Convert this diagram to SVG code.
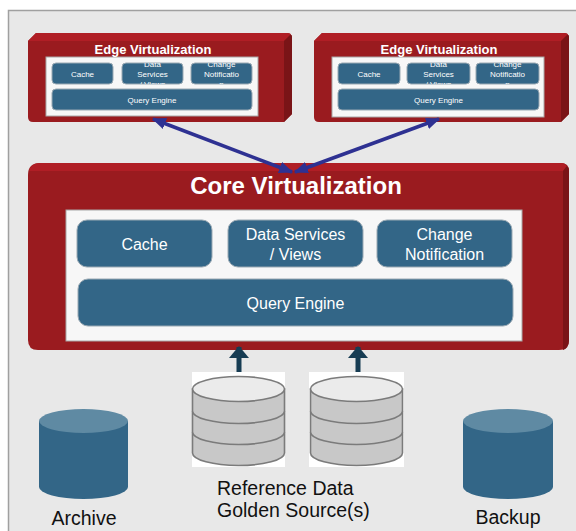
<svg xmlns="http://www.w3.org/2000/svg" width="576" height="531" viewBox="0 0 576 531">
<defs>
<style>
.frame{fill:#e8e8e8;stroke:#a0a0a0;stroke-width:1.5}
.red{fill:#9a1b1f}
.redtop{fill:#b01e25}
.redside{fill:#7a1417}
.panel{fill:#f7f7f7;stroke:#a8a8a8;stroke-width:1}
.box{fill:#336687;stroke:#9aa9b3;stroke-width:1}
.t{font-family:"Liberation Sans",Arial,sans-serif;fill:#ffffff;text-anchor:middle}
.title{font-weight:bold}
.lbl{font-family:"Liberation Sans",Arial,sans-serif;fill:#111111;font-size:19.5px}
.dbg{fill:#c8c8c8;stroke:#7b7b7b;stroke-width:1.6}
.dbgtop{fill:#ebebeb;stroke:#7b7b7b;stroke-width:1.6}
.dbb{fill:#336687}
.dbbtop{fill:#5f8aa3}
.conn{stroke:#2e3192;stroke-width:3.5;fill:none}
.up{stroke:#163c53;stroke-width:5;fill:none}
</style>
<marker id="bh" viewBox="0 0 12 10" refX="11" refY="5" markerWidth="14" markerHeight="12" markerUnits="userSpaceOnUse" orient="auto-start-reverse">
<path d="M0,0 L12,5 L0,10 Z" fill="#2e3192"/>
</marker>
<marker id="uh" viewBox="0 0 12 20" refX="11" refY="10" markerWidth="12" markerHeight="20" markerUnits="userSpaceOnUse" orient="auto">
<path d="M0,0 L12,10 L0,20 Z" fill="#163c53"/>
</marker>
<clipPath id="cL1"><rect x="122" y="63" width="61" height="21" rx="4"/></clipPath>
<clipPath id="cL2"><rect x="191" y="63" width="61" height="21" rx="4"/></clipPath>
<clipPath id="cR1"><rect x="407" y="63" width="63" height="21" rx="4"/></clipPath>
<clipPath id="cR2"><rect x="476" y="63" width="63" height="21" rx="4"/></clipPath>
</defs>

<rect class="frame" x="8.5" y="10.5" width="600" height="600"/>

<g id="edge-left">
<path class="red" d="M36,33 H287 Q292,33 292,38 V114 L284,122 H33 Q28,122 28,117 V41 Z"/>
<path class="redtop" d="M36,33 H287 Q292,33 290,36 L284,41 H28 Z"/>
<path class="redside" d="M284,41 L290,35 Q292,34 292,38 V114 L284,122 Z"/>
<rect class="panel" x="46" y="57" width="212" height="59"/>
<text class="t title" x="153" y="54" font-size="13">Edge Virtualization</text>
<rect class="box" x="52" y="63" width="61" height="21" rx="4"/>
<text class="t" x="82.5" y="76.5" font-size="8">Cache</text>
<rect class="box" x="122" y="63" width="61" height="21" rx="4"/>
<g clip-path="url(#cL1)"><text class="t" font-size="8"><tspan x="152.5" y="67">Data</tspan><tspan x="152.5" y="77">Services</tspan><tspan x="152.5" y="87">/ Views</tspan></text></g>
<rect class="box" x="191" y="63" width="61" height="21" rx="4"/>
<g clip-path="url(#cL2)"><text class="t" font-size="8"><tspan x="221.5" y="67">Change</tspan><tspan x="221.5" y="77">Notificatio</tspan><tspan x="221.5" y="87">n</tspan></text></g>
<rect class="box" x="52" y="89" width="200" height="21" rx="4"/>
<text class="t" x="152" y="102.5" font-size="8">Query Engine</text>
</g>

<g id="edge-right">
<path class="red" d="M322,33 H564 Q569,33 569,38 V114 L561,122 H319 Q314,122 314,117 V41 Z"/>
<path class="redtop" d="M322,33 H564 Q569,33 567,36 L561,41 H314 Z"/>
<path class="redside" d="M561,41 L567,35 Q569,34 569,38 V114 L561,122 Z"/>
<rect class="panel" x="332" y="57" width="212" height="60"/>
<text class="t title" x="439" y="54" font-size="13">Edge Virtualization</text>
<rect class="box" x="338" y="63" width="62" height="21" rx="4"/>
<text class="t" x="369" y="76.5" font-size="8">Cache</text>
<rect class="box" x="407" y="63" width="63" height="21" rx="4"/>
<g clip-path="url(#cR1)"><text class="t" font-size="8"><tspan x="438.5" y="67">Data</tspan><tspan x="438.5" y="77">Services</tspan><tspan x="438.5" y="87">/ Views</tspan></text></g>
<rect class="box" x="476" y="63" width="63" height="21" rx="4"/>
<g clip-path="url(#cR2)"><text class="t" font-size="8"><tspan x="507.5" y="67">Change</tspan><tspan x="507.5" y="77">Notificatio</tspan><tspan x="507.5" y="87">n</tspan></text></g>
<rect class="box" x="338" y="89" width="201" height="21" rx="4"/>
<text class="t" x="438.5" y="102.5" font-size="8">Query Engine</text>
</g>

<g id="core">
<path class="red" d="M40,163 H561 Q569,163 569,171 V340 Q569,350 559,350 H38 Q28,350 28,340 V175 Q28,163 40,163 Z"/>
<path class="redtop" d="M40,163 H561 Q567,163 566,168 L563,171 H29 Q31,163 40,163 Z"/>
<path class="redside" d="M563,171 L566,167 Q569,166 569,172 V340 Q569,348 563,350 Z"/>
<rect class="panel" x="66" y="210" width="456" height="131"/>
<text class="t title" x="296" y="194" font-size="24">Core Virtualization</text>
<rect class="box" x="77" y="220" width="135" height="47" rx="10"/>
<text class="t" x="144.5" y="249.5" font-size="16">Cache</text>
<rect class="box" x="228" y="220" width="135" height="47" rx="10"/>
<text class="t" font-size="16"><tspan x="295.5" y="240">Data Services</tspan><tspan x="295.5" y="260">/ Views</tspan></text>
<rect class="box" x="377" y="220" width="135" height="47" rx="10"/>
<text class="t" font-size="16"><tspan x="444.5" y="240">Change</tspan><tspan x="444.5" y="260">Notification</tspan></text>
<rect class="box" x="78" y="279" width="435" height="47" rx="10"/>
<text class="t" x="295.5" y="308.5" font-size="16">Query Engine</text>
</g>

<g id="golden-source-1">
<rect x="192" y="372" width="93" height="95" fill="#ffffff"/>
<path class="dbg" d="M192.5,389 V453 A46,12.5 0 0 0 284.5,453 V389 Z"/>
<path class="dbg" d="M192.5,411 A46,12.5 0 0 0 284.5,411" fill="none"/>
<path class="dbg" d="M192.5,432 A46,12.5 0 0 0 284.5,432" fill="none"/>
<ellipse class="dbgtop" cx="238.5" cy="389" rx="46" ry="12.5"/>
</g>

<g id="golden-source-2">
<rect x="309" y="372" width="95" height="95" fill="#ffffff"/>
<path class="dbg" d="M310.5,389 V453 A46,12.5 0 0 0 402.5,453 V389 Z"/>
<path class="dbg" d="M310.5,411 A46,12.5 0 0 0 402.5,411" fill="none"/>
<path class="dbg" d="M310.5,432 A46,12.5 0 0 0 402.5,432" fill="none"/>
<ellipse class="dbgtop" cx="356.5" cy="389" rx="46" ry="12.5"/>
</g>
<text class="lbl" id="golden-label"><tspan x="217" y="495">Reference Data</tspan><tspan x="217" y="517">Golden Source(s)</tspan></text>

<g id="archive">
<path class="dbb" d="M39,421 V487 A44.5,12 0 0 0 128,487 V421 Z"/>
<ellipse class="dbbtop" cx="83.5" cy="421" rx="44.5" ry="12"/>
<text class="lbl" x="84" y="525" text-anchor="middle">Archive</text>
</g>

<g id="backup">
<path class="dbb" d="M463,421 V487 A45,12 0 0 0 553,487 V421 Z"/>
<ellipse class="dbbtop" cx="508" cy="421" rx="45" ry="12"/>
<text class="lbl" x="508" y="524" text-anchor="middle">Backup</text>
</g>

<g id="connectors">
<line class="conn" x1="153" y1="119" x2="292" y2="172" marker-start="url(#bh)" marker-end="url(#bh)"/>
<line class="conn" x1="439" y1="119" x2="295" y2="172" marker-start="url(#bh)" marker-end="url(#bh)"/>
<line class="up" x1="239" y1="372" x2="239" y2="347" marker-end="url(#uh)"/>
<line class="up" x1="358" y1="372" x2="358" y2="347" marker-end="url(#uh)"/>
</g>
</svg>
